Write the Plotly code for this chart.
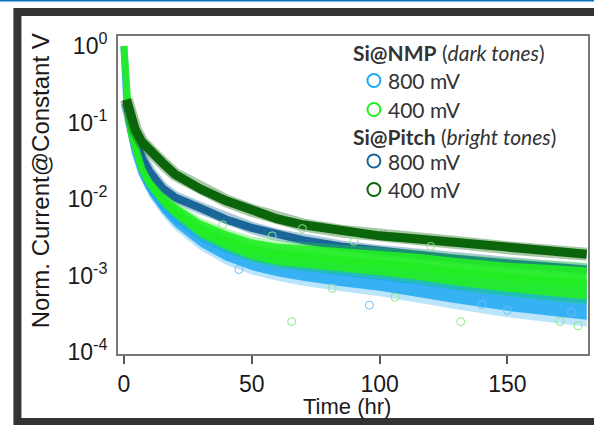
import plotly.graph_objects as go

# ---------------- data ----------------
time_hr = [0, 0.5, 1, 2, 3, 4.5, 7, 10, 15, 20, 30, 40, 50, 60, 70, 85, 100, 115, 130, 150, 165, 181]

# Si@NMP 800 mV (light blue) - centre of the scatter band and its half-spread (decades)
nmp800 = [1.0, 0.40, 0.22, 0.10, 0.063, 0.040, 0.022, 0.014, 0.0083, 0.0056, 0.0032, 0.0022,
          0.0017, 0.00145, 0.00129, 0.00112, 0.0010, 0.00085, 0.00072, 0.0006, 0.00054, 0.00048]
nmp800_spread = [0.03, 0.04, 0.05, 0.06, 0.06, 0.07, 0.08, 0.09, 0.1, 0.11, 0.13, 0.15,
                 0.16, 0.17, 0.18, 0.19, 0.2, 0.21, 0.22, 0.24, 0.25, 0.26]

# Si@NMP 400 mV (bright green)
nmp400 = [1.0, 0.45, 0.25, 0.112, 0.071, 0.045, 0.025, 0.016, 0.010, 0.0071, 0.0041, 0.0029,
          0.0022, 0.0019, 0.00178, 0.0016, 0.00146, 0.00130, 0.00112, 0.00095, 0.00087, 0.00079]
nmp400_spread = [0.03, 0.04, 0.05, 0.05, 0.05, 0.06, 0.06, 0.07, 0.08, 0.09, 0.11, 0.12,
                 0.13, 0.14, 0.145, 0.15, 0.16, 0.17, 0.18, 0.19, 0.2, 0.21]

# Si@Pitch 800 mV (dark blue) - hidden under the green start for the first hour
pitch800 = [None, None, 0.18, 0.12, 0.085, 0.058, 0.035, 0.023, 0.014, 0.0105, 0.0076, 0.0054,
            0.0042, 0.0034, 0.0029, 0.0024, 0.0021, 0.00186, 0.00166, 0.00145, 0.00132, 0.0012]

# Si@Pitch 400 mV (dark green)
pitch400 = [None, None, 0.20, 0.145, 0.11, 0.08, 0.056, 0.043, 0.030, 0.021, 0.0135, 0.0095,
            0.0071, 0.0055, 0.0046, 0.0038, 0.0033, 0.0030, 0.0027, 0.0023, 0.0021, 0.0019]

# stray points
stray_green_t = [38.6, 65.6, 81.5, 106, 131.7, 170.6, 177.6, 69.8, 90, 58, 120]
stray_green_v = [0.0046, 0.00025, 0.00068, 0.00052, 0.00025, 0.00025, 0.00022, 0.0041, 0.0028, 0.0033, 0.0024]
stray_blue_t = [96, 150, 175, 45, 140]
stray_blue_v = [0.00041, 0.00035, 0.00033, 0.0012, 0.00042]

x_ticks = [0, 50, 100, 150]
y_ticks = [1, 0.1, 0.01, 0.001, 0.0001]
y_ticktext = ["10<sup>0</sup>", "10<sup>-1</sup>", "10<sup>-2</sup>", "10<sup>-3</sup>", "10<sup>-4</sup>"]

C_LBLUE = "#1ea8f2"
C_GREEN = "#22ee22"
C_DBLUE = "#1a6699"
C_DGREEN = "#0b650b"

# ---------------- figure ----------------
W, H = 594, 425
L, R, T, B = 118, 4, 36, 71
pw, ph = W - L - R, H - T - B


def px_x(px):
    return (px - L) / pw


def px_y(py):
    return (H - B - py) / ph


fig = go.Figure()


def band(tv, centre, spread, color, opacity, widen=1.0, core=True):
    up = [c * 10 ** (s * widen) for c, s in zip(centre, spread)]
    lo = [c / 10 ** (s * widen) for c, s in zip(centre, spread)]
    fig.add_trace(go.Scatter(
        x=list(tv) + list(tv)[::-1], y=up + lo[::-1], mode="lines",
        fill="toself", fillcolor=color, opacity=opacity,
        line=dict(color=color, width=0),
        hoverinfo="skip", showlegend=False))
    if core:
        fig.add_trace(go.Scatter(
            x=tv, y=centre, mode="lines", opacity=opacity,
            line=dict(color=color, width=7),
            hoverinfo="skip", showlegend=False))


def curve(tv, vals, color, width):
    fig.add_trace(go.Scatter(x=tv, y=vals, mode="lines", opacity=0.35,
                             line=dict(color=color, width=width + 4),
                             showlegend=False, hoverinfo="skip"))
    fig.add_trace(go.Scatter(x=tv, y=vals, mode="lines",
                             line=dict(color=color, width=width),
                             showlegend=False, hoverinfo="skip"))


band(time_hr, nmp800, nmp800_spread, C_LBLUE, 0.3, widen=1.35, core=False)
band(time_hr, nmp800, nmp800_spread, C_LBLUE, 0.85)
curve(time_hr, pitch800, C_DBLUE, 8)
band(time_hr, nmp400, nmp400_spread, C_GREEN, 0.3, widen=1.3, core=False)
band(time_hr, nmp400, nmp400_spread, C_GREEN, 0.9)
curve(time_hr, pitch400, C_DGREEN, 9)
fig.add_trace(go.Scatter(x=stray_green_t, y=stray_green_v, mode="markers",
                         marker=dict(symbol="circle-open", size=8, color="#8be88b", line=dict(width=1)),
                         showlegend=False, hoverinfo="skip"))
fig.add_trace(go.Scatter(x=stray_blue_t, y=stray_blue_v, mode="markers",
                         marker=dict(symbol="circle-open", size=8, color="#6cbff5", line=dict(width=1)),
                         showlegend=False, hoverinfo="skip"))

shapes = []
# top blue rule
shapes.append(dict(type="rect", xref="paper", yref="paper", x0=px_x(-5), x1=px_x(600),
                   y0=px_y(1.6), y1=px_y(-2), fillcolor="#0a70c0", line=dict(width=0)))
# dark frame
shapes.append(dict(type="rect", xref="paper", yref="paper", x0=px_x(17), x1=px_x(620),
                   y0=px_y(422), y1=px_y(12), line=dict(color="#333333", width=8)))

# legend
LEG_FONT = "Lato, 'Open Sans', sans-serif"
annotations = []
leg_rows = [
    (52, None, "<b>Si@NMP</b> (<i>dark tones</i>)"),
    (80.5, C_LBLUE, "800 mV"),
    (109.5, C_GREEN, "400 mV"),
    (136, None, "<b>Si@Pitch</b> (<i>bright tones</i>)"),
    (161, C_DBLUE, "800 mV"),
    (189.5, C_DGREEN, "400 mV"),
]
for yy, col, txt in leg_rows:
    if col is None:
        annotations.append(dict(x=px_x(352), y=px_y(yy), xref="paper", yref="paper", text=txt,
                                showarrow=False, xanchor="left", yanchor="middle", align="left",
                                font=dict(family=LEG_FONT, size=21, color="#333333")))
    else:
        r = 6.5
        shapes.append(dict(type="circle", xref="paper", yref="paper",
                           x0=px_x(375 - r), x1=px_x(375 + r),
                           y0=px_y(yy + r), y1=px_y(yy - r),
                           line=dict(color=col, width=2)))
        annotations.append(dict(x=px_x(387), y=px_y(yy), xref="paper", yref="paper", text=txt,
                                showarrow=False, xanchor="left", yanchor="middle", align="left",
                                font=dict(family=LEG_FONT, size=21, color="#333333")))

AX_FONT = "'Liberation Sans', Arial, sans-serif"
annotations.append(dict(x=px_x(40), y=px_y(181), xref="paper", yref="paper",
                        text="Norm. Current@Constant V", textangle=-90, showarrow=False,
                        xanchor="center", yanchor="middle",
                        font=dict(family=AX_FONT, size=24, color="#1a1a1a")))
annotations.append(dict(x=px_x(348), y=px_y(406), xref="paper", yref="paper",
                        text="Time (hr)", showarrow=False, xanchor="center", yanchor="middle",
                        font=dict(family=AX_FONT, size=22, color="#1a1a1a")))

fig.update_layout(
    width=W, height=H, margin=dict(l=L, r=R, t=T, b=B, pad=0),
    paper_bgcolor="white", plot_bgcolor="white",
    shapes=shapes, annotations=annotations, showlegend=False,
    xaxis=dict(range=[-2.3, 181.5], tickvals=x_ticks, ticks="outside", ticklen=8, tickwidth=1.5,
               tickcolor="#555555", showline=True, linecolor="#777777", linewidth=2, mirror=True,
               showgrid=False, zeroline=False,
               tickfont=dict(family=AX_FONT, size=23, color="#1a1a1a")),
    yaxis=dict(type="log", range=[-4.026, 0.131], tickvals=y_ticks, ticktext=y_ticktext,
               ticks="", showline=True, linecolor="#777777", linewidth=2, mirror=True,
               showgrid=False, zeroline=False, ticklabelstandoff=4,
               tickfont=dict(family=AX_FONT, size=23, color="#1a1a1a")),
)

fig.write_html("out.html")
